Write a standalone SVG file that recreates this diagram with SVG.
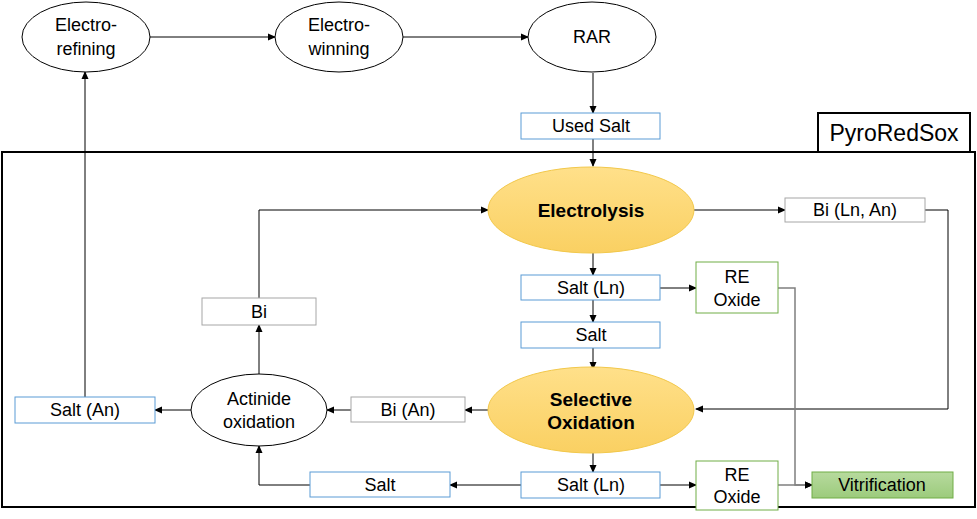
<svg xmlns="http://www.w3.org/2000/svg" width="977" height="519" viewBox="0 0 977 519">
<defs>
<linearGradient id="yel" x1="0" y1="0" x2="0" y2="1"><stop offset="0" stop-color="#FFE08A"/><stop offset="1" stop-color="#FAD062"/></linearGradient>
<linearGradient id="grn" x1="0" y1="0" x2="0" y2="1"><stop offset="0" stop-color="#B7DA9E"/><stop offset="1" stop-color="#9CCB7C"/></linearGradient>
<marker id="ar" markerWidth="8" markerHeight="8" refX="7" refY="4" orient="auto" markerUnits="userSpaceOnUse"><path d="M0,0.5 L8,4 L0,7.5 z" fill="#000"/></marker>
</defs>
<style>
text{font-family:"Liberation Sans",Arial,sans-serif;font-size:18px;fill:#000;text-anchor:middle}
.b{font-weight:bold;font-size:19px}
.circ{fill:#fff;stroke:#000;stroke-width:1}
.yel{fill:url(#yel);stroke:#F2C84B;stroke-width:1}
.bl{fill:#fff;stroke:#5B9BD5;stroke-width:1}
.gr{fill:#fff;stroke:#A6A6A6;stroke-width:1}
.gn{fill:#fff;stroke:#70AD47;stroke-width:1}
.c{fill:none;stroke:#000;stroke-width:1}
.g{fill:none;stroke:#7F7F7F;stroke-width:1.5}
</style>
<rect width="977" height="519" fill="#fff"/>
<g id="pyro">
<rect x="2" y="152" width="973" height="355" fill="none" stroke="#000" stroke-width="2"/>
<rect x="818" y="113" width="152" height="39" fill="#fff" stroke="#000" stroke-width="2"/>
<text x="894" y="141" style="font-size:23px">PyroRedSox</text>
</g>
<g id="connectors">
<path class="c" d="M150,37 H275" marker-end="url(#ar)"/>
<path class="c" d="M403,37 H528" marker-end="url(#ar)"/>
<path class="c" d="M593,73 V113" marker-end="url(#ar)"/>
<path class="c" d="M593,139 V166" marker-end="url(#ar)"/>
<path class="c" d="M694,210 H785" marker-end="url(#ar)"/>
<path class="c" d="M925,210 H948 V409 H696" marker-end="url(#ar)"/>
<path class="c" d="M593,253 V275" marker-end="url(#ar)"/>
<path class="c" d="M660,288 H696" marker-end="url(#ar)"/>
<path class="c" d="M593,300 V322" marker-end="url(#ar)"/>
<path class="c" d="M593,348 V369" marker-end="url(#ar)"/>
<path class="c" d="M488,410 H465" marker-end="url(#ar)"/>
<path class="c" d="M351,410 H327" marker-end="url(#ar)"/>
<path class="c" d="M191,410 H155" marker-end="url(#ar)"/>
<path class="c" d="M85,397 V72" marker-end="url(#ar)"/>
<path class="c" d="M259,374 V325" marker-end="url(#ar)"/>
<path class="c" d="M259,298 V210 H488" marker-end="url(#ar)"/>
<path class="c" d="M593,453 V472" marker-end="url(#ar)"/>
<path class="c" d="M521,485 H450" marker-end="url(#ar)"/>
<path class="c" d="M310,485 H259 V446" marker-end="url(#ar)"/>
<path class="c" d="M660,485 H696" marker-end="url(#ar)"/>
<path class="g" d="M778,288 H795 V485 H812" marker-end="url(#ar)"/>
<path class="g" d="M778,485 H812" marker-end="url(#ar)"/>
</g>
<g id="electrorefining"><ellipse class="circ" cx="86" cy="37" rx="64" ry="35"/><text x="86" y="31">Electro-</text><text x="86" y="55">refining</text></g>
<g id="electrowinning"><ellipse class="circ" cx="339" cy="37" rx="64" ry="35"/><text x="339" y="31">Electro-</text><text x="339" y="55">winning</text></g>
<g id="rar"><ellipse class="circ" cx="592" cy="37" rx="64" ry="35"/><text x="592" y="43">RAR</text></g>
<g id="usedsalt"><rect class="bl" x="521" y="113" width="139" height="26"/><text x="591" y="132">Used Salt</text></g>
<g id="electrolysis"><ellipse class="yel" cx="591" cy="210" rx="103" ry="43"/><text class="b" x="591" y="217">Electrolysis</text></g>
<g id="biLnAn"><rect class="gr" x="785" y="198" width="140" height="24"/><text x="855" y="216">Bi (Ln, An)</text></g>
<g id="saltLn1"><rect class="bl" x="521" y="275" width="139" height="25"/><text x="591" y="294">Salt (Ln)</text></g>
<g id="reoxide1"><rect class="gn" x="696" y="262" width="82" height="51"/><text x="737" y="283">RE</text><text x="737" y="306">Oxide</text></g>
<g id="salt1"><rect class="bl" x="521" y="322" width="139" height="26"/><text x="591" y="341">Salt</text></g>
<g id="selox"><ellipse class="yel" cx="591" cy="410" rx="103" ry="43"/><text class="b" x="591" y="406">Selective</text><text class="b" x="591" y="429">Oxidation</text></g>
<g id="biAn"><rect class="gr" x="351" y="397" width="114" height="25"/><text x="408" y="416">Bi (An)</text></g>
<g id="actinide"><ellipse class="circ" cx="259" cy="410" rx="68" ry="36"/><text x="259" y="405">Actinide</text><text x="259" y="428">oxidation</text></g>
<g id="saltAn"><rect class="bl" x="15" y="397" width="140" height="26"/><text x="85" y="416">Salt (An)</text></g>
<g id="bi"><rect class="gr" x="202" y="298" width="114" height="27"/><text x="259" y="318">Bi</text></g>
<g id="saltLn2"><rect class="bl" x="521" y="472" width="139" height="26"/><text x="591" y="491">Salt (Ln)</text></g>
<g id="salt2"><rect class="bl" x="310" y="472" width="140" height="25"/><text x="380" y="491">Salt</text></g>
<g id="reoxide2"><rect class="gn" x="696" y="461" width="82" height="49"/><text x="737" y="481">RE</text><text x="737" y="503">Oxide</text></g>
<g id="vitrification"><rect x="812" y="472" width="141" height="26" fill="url(#grn)" stroke="#70AD47"/><text x="882" y="491">Vitrification</text></g>
</svg>
